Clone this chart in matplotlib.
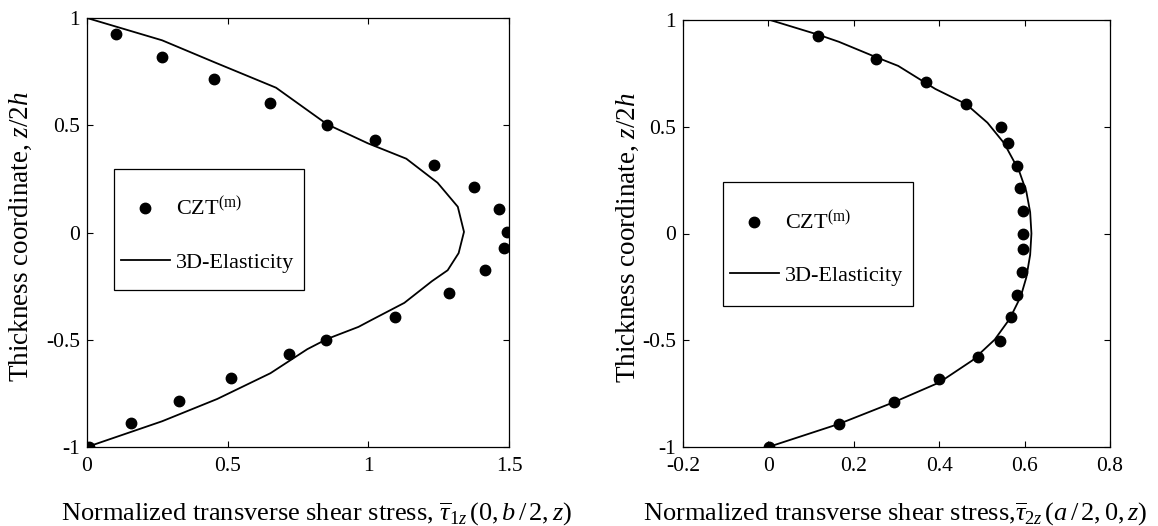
import numpy as np
import matplotlib
matplotlib.use('Agg')
import matplotlib.pyplot as plt
from matplotlib.patches import Rectangle
from matplotlib.ticker import FuncFormatter

plt.rcParams['font.family'] = ['Liberation Serif', 'DejaVu Serif']
plt.rcParams['mathtext.fontset'] = 'custom'
plt.rcParams['mathtext.rm'] = 'Liberation Serif'
plt.rcParams['mathtext.it'] = 'Liberation Serif:italic'
plt.rcParams['axes.unicode_minus'] = False

# --- left panel: tau_1z(0, b/2, z)
czt1_x = [0.104, 0.267, 0.453, 0.650, 0.854, 1.024, 1.233, 1.376, 1.463, 1.493,
          1.483, 1.413, 1.285, 1.096, 0.849, 0.717, 0.513, 0.326, 0.155, 0.007]
czt1_z = [0.925, 0.819, 0.715, 0.603, 0.499, 0.429, 0.317, 0.211, 0.109, 0.003,
          -0.072, -0.176, -0.280, -0.392, -0.499, -0.568, -0.678, -0.784, -0.888, -1.0]
el1_x = [0.0, 0.267, 0.456, 0.672, 0.854, 0.998, 1.135, 1.246, 1.318, 1.340,
         1.321, 1.282, 1.226, 1.128, 1.011, 0.965, 0.854, 0.783, 0.652, 0.463, 0.267, 0.0]
el1_z = [1.0, 0.896, 0.792, 0.675, 0.504, 0.416, 0.344, 0.232, 0.120, 0.003,
         -0.096, -0.176, -0.227, -0.328, -0.408, -0.440, -0.496, -0.544, -0.656, -0.776, -0.880, -1.0]

# --- right panel: tau_2z(a/2, 0, z)
czt2_x = [0.117, 0.252, 0.370, 0.463, 0.545, 0.561, 0.583, 0.590, 0.596, 0.597,
          0.596, 0.593, 0.583, 0.567, 0.543, 0.490, 0.400, 0.294, 0.165, 0.002]
czt2_z = [0.923, 0.816, 0.710, 0.606, 0.500, 0.423, 0.316, 0.213, 0.105, 0.0,
          -0.074, -0.182, -0.287, -0.392, -0.505, -0.577, -0.682, -0.787, -0.892, -1.0]
el2_x = [0.004, 0.117, 0.165, 0.252, 0.304, 0.391, 0.463, 0.513, 0.552, 0.587, 0.604,
         0.613, 0.616, 0.613, 0.604, 0.591, 0.565, 0.530, 0.478, 0.400, 0.294, 0.165, 0.0]
el2_z = [1.0, 0.931, 0.898, 0.826, 0.785, 0.677, 0.606, 0.519, 0.423, 0.294, 0.197,
         0.100, 0.0, -0.100, -0.206, -0.295, -0.400, -0.497, -0.594, -0.698, -0.790, -0.892, -1.0]

xticks1 = [0, 0.5, 1, 1.5]
xticks2 = [-0.2, 0, 0.2, 0.4, 0.6, 0.8]
zticks = [-1, -0.5, 0, 0.5, 1]

W, H = 1158, 526
fig = plt.figure(figsize=(W / 100, H / 100), dpi=100)
ax1 = fig.add_axes([87 / W, (H - 447) / H, 422 / W, 429 / H])
ax2 = fig.add_axes([683 / W, (H - 447) / H, 427 / W, 427 / H])

fmt = FuncFormatter(lambda v, p: '%g' % v)


def style(ax, xt, xlim, xlabel, xlab_x, ylab_x, leg_box):
    ax.set_xlim(xlim)
    ax.set_ylim(-1, 1)
    ax.set_xticks(xt)
    ax.set_yticks(zticks)
    ax.xaxis.set_major_formatter(fmt)
    ax.yaxis.set_major_formatter(fmt)
    ax.tick_params(direction='in', length=4, width=0.8, top=True, right=True,
                   labelsize=15.5)
    ax.tick_params(axis='y', pad=5)
    ax.tick_params(axis='x', pad=7)
    for s in ax.spines.values():
        s.set_linewidth(0.9)
    ax.set_xlabel(xlabel, fontsize=19, va='top')
    ax.xaxis.set_label_coords(xlab_x, -0.125)
    ax.set_ylabel(r'Thickness coordinate, $\mathit{z/2h}$', fontsize=19.5)
    ax.yaxis.set_label_coords(ylab_x, 0.49)
    x0, y0, w, h = leg_box
    ax.add_patch(Rectangle((x0, y0), w, h, transform=ax.transAxes, fill=False,
                           lw=0.9, ec='black', zorder=5))
    ax.legend(loc='upper left', bbox_to_anchor=(x0, y0 + h - 0.05), frameon=False,
              fontsize=16, handlelength=2.2, labelspacing=1.4, handletextpad=0.3,
              borderaxespad=0, borderpad=0.3)


ax1.plot(czt1_x, czt1_z, 'o', color='black', ms=7.5, label=r'CZT$^{\rm(m)}$', zorder=3)
ax1.plot(el1_x, el1_z, '-', color='black', lw=1.3, label='3D-Elasticity')
style(ax1, xticks1, (0, 1.5),
      r'Normalized transverse shear stress, $\overline{\tau}_{1z}\,(0,b\,/\,2,z)$',
      0.545, -0.125, (0.064, 0.366, 0.45, 0.282))

ax2.plot(czt2_x, czt2_z, 'o', color='black', ms=7.5, label=r'CZT$^{\rm(m)}$', zorder=3)
ax2.plot(el2_x, el2_z, '-', color='black', lw=1.3, label='3D-Elasticity')
style(ax2, xticks2, (-0.2, 0.8),
      r'Normalized transverse shear stress,$\overline{\tau}_{2z}\,(a\,/\,2,0,z)$',
      0.498, -0.098, (0.094, 0.33, 0.445, 0.29))

fig.savefig('out.png', dpi=100)
